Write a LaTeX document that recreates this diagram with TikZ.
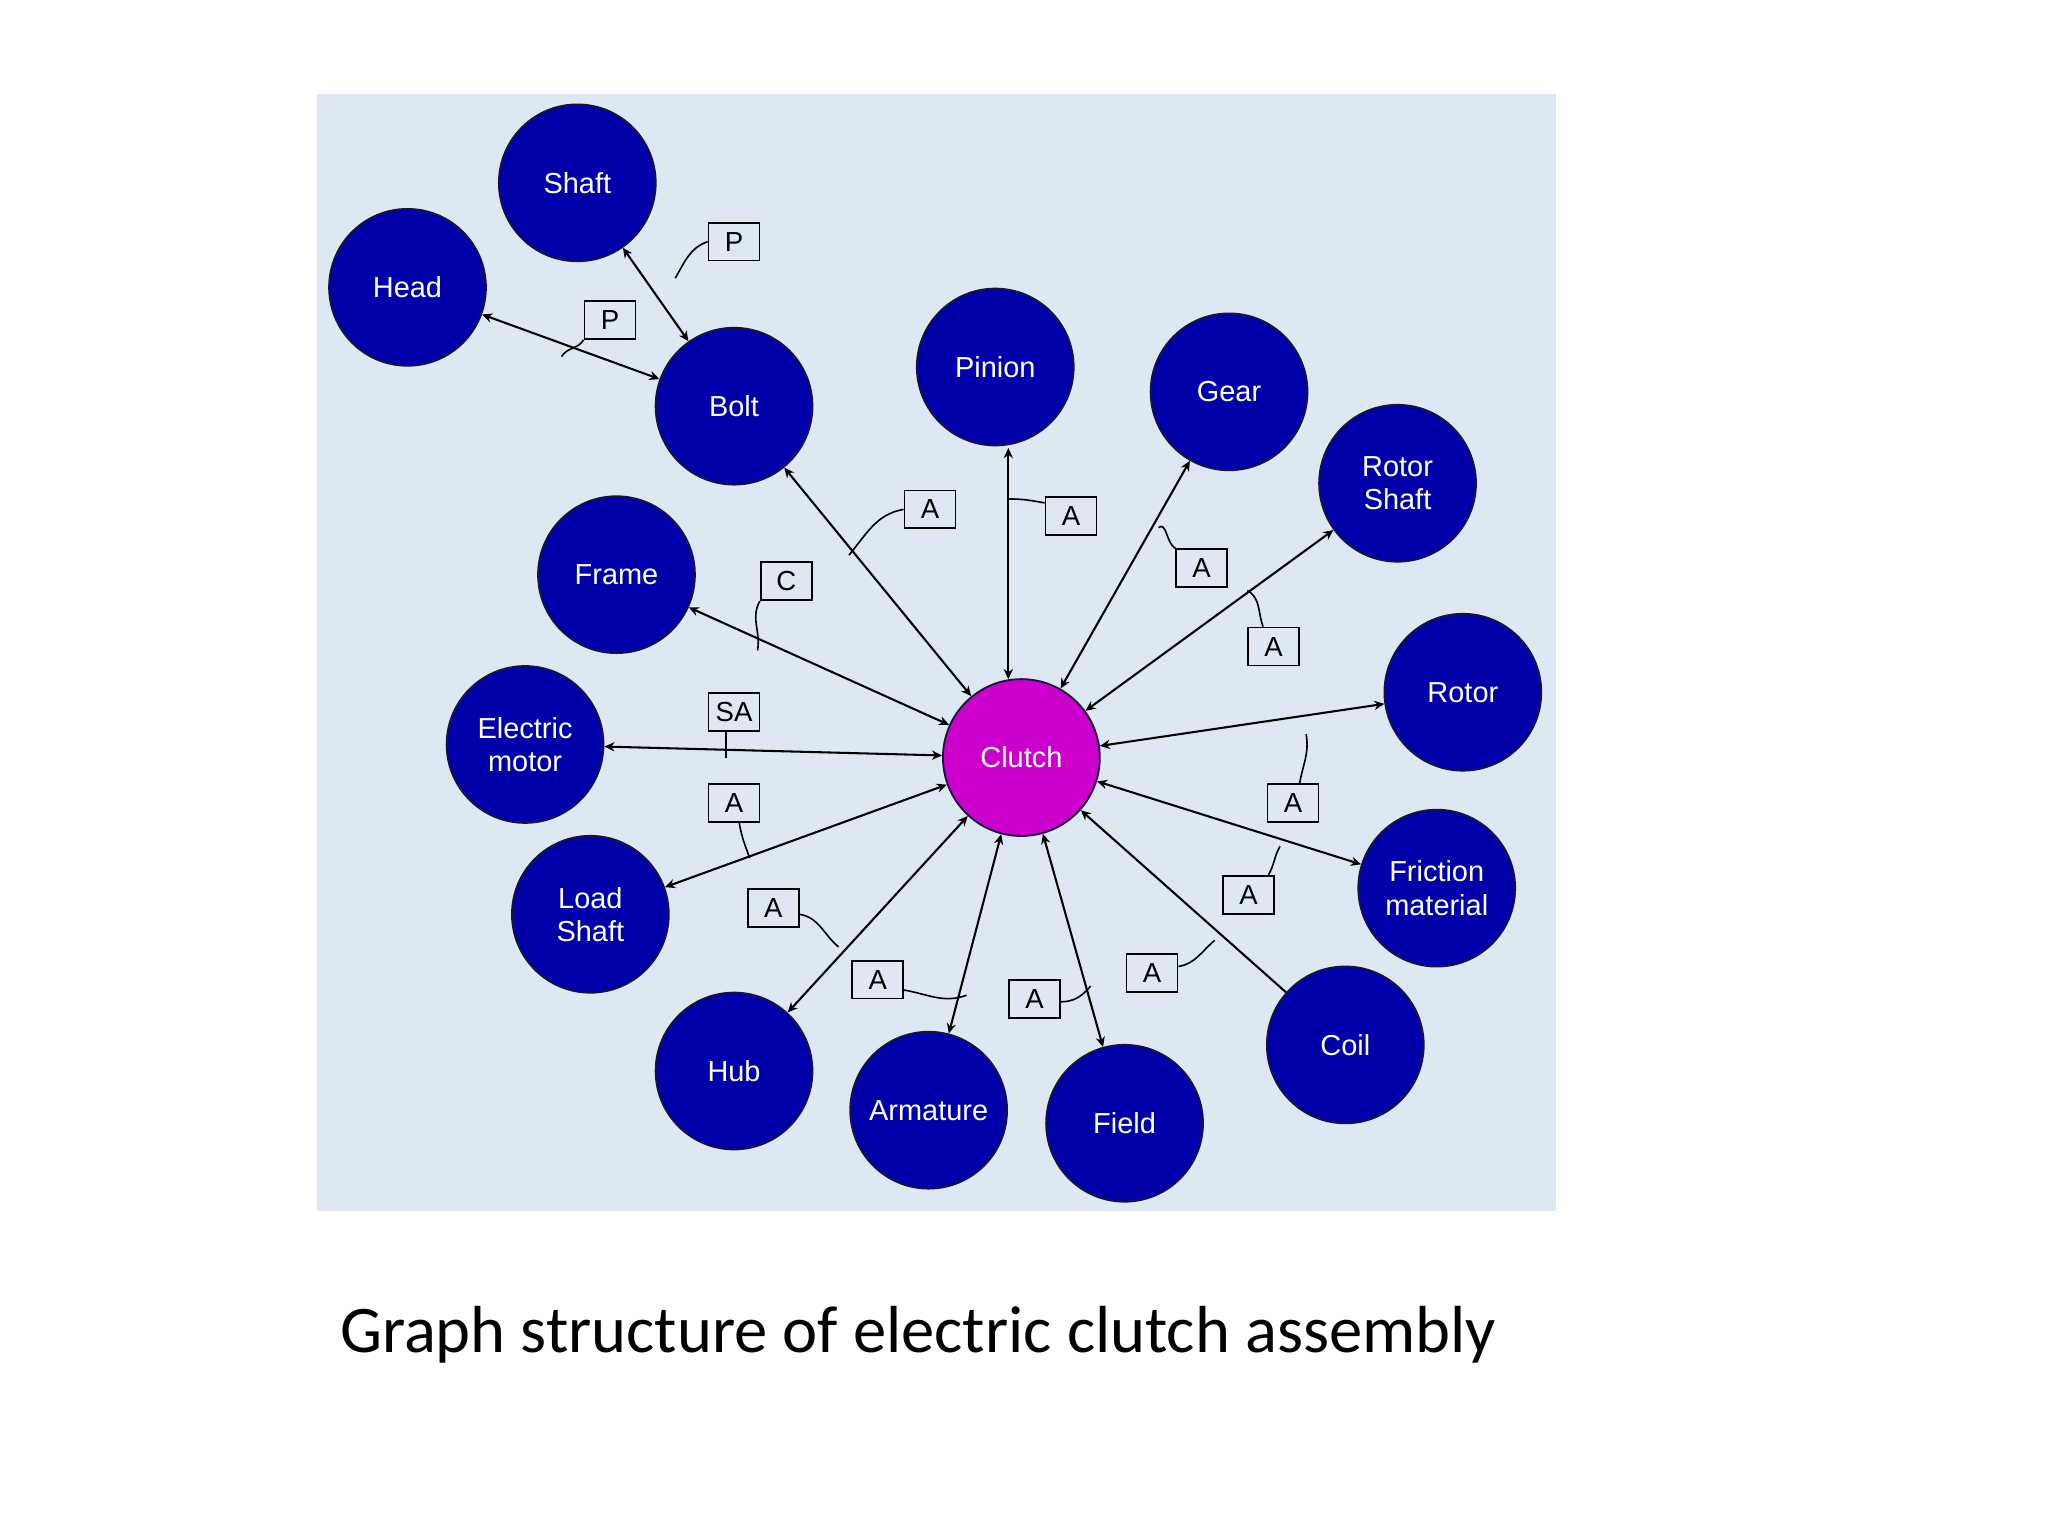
\documentclass[tikz,border=0pt]{standalone}
\usepackage{fontspec}
\setmainfont{Liberation Sans}
\newfontfamily\capfont{Carlito}
\usetikzlibrary{arrows.meta}
\definecolor{bgc}{RGB}{221,232,243}
\definecolor{nodeb}{RGB}{0,0,170}
\definecolor{nodem}{RGB}{204,0,204}
\definecolor{edgeb}{RGB}{20,20,60}
\begin{document}
\begin{tikzpicture}[x=0.01cm,y=-0.01cm,
  part/.style={circle,fill=nodeb,draw=edgeb,line width=0.4pt,minimum size=1.2cm,inner sep=0pt,text=white,font=\fontsize{6.3}{7.2}\selectfont,align=center},
  hub/.style={part,fill=nodem},
  lab/.style={draw,fill=bgc,line width=0.4pt,minimum width=0.39cm,minimum height=0.29cm,inner sep=0pt,font=\fontsize{6}{7}\selectfont},
  ed/.style={line width=0.45pt,{Stealth[length=2.2pt,width=2pt]}-{Stealth[length=2.2pt,width=2pt]}},
  cu/.style={line width=0.35pt}]
\useasboundingbox (0,0) rectangle (1568,1176);
\fill[bgc] (243,72) rectangle (1191,927);
\node[part] (shaft) at (442,140) {Shaft};
\node[part] (head) at (312,220) {Head};
\node[part] (bolt) at (562,311) {Bolt};
\node[part] (pinion) at (762,281) {Pinion};
\node[part] (gear) at (941,300) {Gear};
\node[part] (rshaft) at (1070,370) {Rotor\\Shaft};
\node[part] (frame) at (472,440) {Frame};
\node[part] (emotor) at (402,570) {Electric\\motor};
\node[part] (rotor) at (1120,530) {Rotor};
\node[hub] (clutch) at (782,580) {Clutch};
\node[part] (fric) at (1100,680) {Friction\\material};
\node[part] (lshaft) at (452,700) {Load\\Shaft};
\node[part] (coil) at (1030,800) {Coil};
\node[part] (hubn) at (562,820) {Hub};
\node[part] (arm) at (711,850) {Armature};
\node[part] (field) at (861,860) {Field};
\coordinate (p1) at (772,343);
\coordinate (p2) at (772,520);
\draw[ed] (shaft) -- (bolt);
\draw[ed] (head) -- (bolt);
\draw[ed] (bolt) -- (clutch);
\draw[ed] (p1) -- (p2);
\draw[ed] (gear) -- (clutch);
\draw[ed] (rshaft) -- (clutch);
\draw[ed] (frame) -- (clutch);
\draw[ed] (emotor) -- (clutch);
\draw[ed] (rotor) -- (clutch);
\draw[ed] (fric) -- (clutch);
\draw[ed] (lshaft) -- (clutch);
\draw[line width=0.45pt,{Stealth[length=2.2pt,width=2pt]}-] (clutch) -- (coil);
\draw[ed] (hubn) -- (clutch);
\draw[ed] (arm) -- (clutch);
\draw[ed] (field) -- (clutch);
\node[lab] (l1) at (562,185) {P};
\node[lab] (l2) at (467,245) {P};
\node[lab] (l3) at (712,390) {A};
\node[lab] (l4) at (820,395) {A};
\node[lab] (l5) at (920,435) {A};
\node[lab] (l6) at (975,495) {A};
\node[lab] (l7) at (602,445) {C};
\node[lab] (l8) at (562,545) {SA};
\node[lab] (l9) at (562,615) {A};
\node[lab] (l10) at (592,695) {A};
\node[lab] (l11) at (672,750) {A};
\node[lab] (l12) at (792,765) {A};
\node[lab] (l13) at (882,745) {A};
\node[lab] (l14) at (956,685) {A};
\node[lab] (l15) at (990,615) {A};
\draw[cu] (l1.west) to[out=200,in=60] (517,213);
\draw[cu] (l2.south west) to[out=240,in=60] (430,273);
\draw[cu] (l3.west) to[out=190,in=50] (650,425);
\draw[cu] (l4.west) ++(0,-10) to[out=170,in=0] (772,382);
\draw[cu] (l5.north west) to[out=150,in=40] (887,404);
\draw[cu] (l6.north) ++(-8,0) to[out=110,in=-30] (955,452);
\draw[cu] (l7.south west) to[out=240,in=80] (580,498);
\draw[cu] (l8.south) ++(-6,0) to[out=-90,in=90] (556,580);
\draw[cu] (l9.south) ++(4,0) to[out=-80,in=110] (574,657);
\draw[cu] (l10.east) ++(0,5) to[out=-10,in=140] (642,725);
\draw[cu] (l11.east) ++(0,8) to[out=-10,in=200] (740,762);
\draw[cu] (l12.east) ++(0,2) to[out=0,in=230] (835,755);
\draw[cu] (l13.east) ++(0,-5) to[out=10,in=220] (930,720);
\draw[cu] (l14.north east) ++(-5,0) to[out=60,in=240] (980,648);
\draw[cu] (l15.north) ++(5,0) to[out=80,in=-80] (1000,562);
\node[font=\capfont\fontsize{14.5}{17}\selectfont,anchor=west] (cap) at (248,1022) {Graph structure of electric clutch assembly};
\end{tikzpicture}
\end{document}
